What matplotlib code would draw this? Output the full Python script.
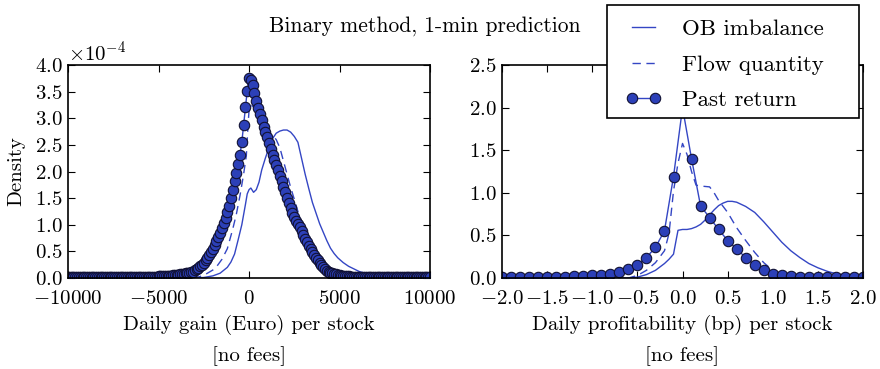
import numpy as np
import matplotlib
matplotlib.use("Agg")
from matplotlib import pyplot as plt
from matplotlib.lines import Line2D
from matplotlib.patches import Rectangle
from matplotlib.ticker import ScalarFormatter

plt.rcParams["font.family"] = ["cmr10", "DejaVu Serif"]
plt.rcParams["mathtext.fontset"] = "cm"
plt.rcParams["axes.formatter.use_mathtext"] = True
plt.rcParams["axes.unicode_minus"] = True
plt.rcParams["xtick.direction"] = "in"
plt.rcParams["ytick.direction"] = "in"
plt.rcParams["xtick.top"] = True
plt.rcParams["ytick.right"] = True
plt.rcParams["xtick.major.size"] = 5
plt.rcParams["ytick.major.size"] = 5
plt.rcParams["font.size"] = 15

# left panel: daily gain (Euro), density in units of 1e-4
gain_grid = np.linspace(-10000, 10000, 201)
gain_past = [
    0.01, 0.01, 0.01, 0.01, 0.01, 0.01, 0.01, 0.01, 0.01, 0.01,
    0.01, 0.01, 0.01, 0.01, 0.01, 0.01, 0.01, 0.01, 0.01, 0.01,
    0.01, 0.01, 0.01, 0.01, 0.01, 0.01, 0.01, 0.01, 0.01, 0.01,
    0.01, 0.01, 0.01, 0.01, 0.01, 0.01, 0.01, 0.01, 0.01, 0.01,
    0.015, 0.015, 0.015, 0.015, 0.02, 0.02, 0.02, 0.02, 0.02, 0.025,
    0.03, 0.03, 0.035, 0.035, 0.04, 0.04, 0.045, 0.045, 0.05, 0.055,
    0.06, 0.065, 0.07, 0.075, 0.08, 0.085, 0.09, 0.10, 0.11, 0.12,
    0.15, 0.17, 0.19, 0.22, 0.25, 0.29, 0.33, 0.38, 0.43, 0.49,
    0.55, 0.62, 0.69, 0.77, 0.85, 0.94, 1.03, 1.13, 1.24, 1.36,
    1.50, 1.65, 1.82, 1.98, 2.14, 2.32, 2.55, 2.88, 3.22, 3.52,
    3.76, 3.72, 3.62, 3.48, 3.32, 3.20, 3.08, 2.96, 2.84, 2.74,
    2.64, 2.53, 2.43, 2.32, 2.22, 2.12, 2.02, 1.92, 1.82, 1.71,
    1.61, 1.51, 1.41, 1.31, 1.23, 1.15, 1.08, 1.01, 0.95, 0.88,
    0.81, 0.74, 0.67, 0.61, 0.55, 0.49, 0.43, 0.38, 0.33, 0.28,
    0.24, 0.20, 0.17, 0.14, 0.12, 0.10, 0.09, 0.08, 0.07, 0.06,
    0.05, 0.045, 0.04, 0.035, 0.03, 0.03, 0.025, 0.025, 0.02, 0.02,
    0.02, 0.02, 0.015, 0.015, 0.015, 0.015, 0.015, 0.015, 0.015, 0.015,
    0.01, 0.01, 0.01, 0.01, 0.01, 0.01, 0.01, 0.01, 0.01, 0.01,
    0.01, 0.01, 0.01, 0.01, 0.01, 0.01, 0.01, 0.01, 0.01, 0.01,
    0.01, 0.01, 0.01, 0.01, 0.01, 0.01, 0.01, 0.01, 0.01, 0.01,
    0.01,
]

gain_ob_x = [-10000, -3000, -2500, -2000, -1600, -1200, -1000, -800, -600, -400,
             -200, -100, 0, 100, 250, 400, 550, 700, 900, 1100,
             1300, 1500, 1700, 1900, 2100, 2300, 2500, 2700, 2900, 3100,
             3300, 3500, 3700, 3900, 4100, 4300, 4500, 4700, 4900, 5200,
             5500, 5800, 6100, 6500, 7000, 7500, 8000, 10000]
gain_ob_y = [0.0, 0.0, 0.01, 0.04, 0.09, 0.2, 0.30, 0.45, 0.72, 1.0,
             1.38, 1.58, 1.66, 1.69, 1.61, 1.66, 1.80, 2.03, 2.25, 2.45,
             2.62, 2.72, 2.76, 2.78, 2.78, 2.74, 2.66, 2.55, 2.25, 1.95,
             1.68, 1.42, 1.22, 1.02, 0.86, 0.70, 0.56, 0.46, 0.38, 0.29,
             0.22, 0.17, 0.12, 0.08, 0.04, 0.02, 0.01, 0.0]

gain_flow_x = [-10000, -3000, -2500, -2000, -1800, -1500, -1200, -900, -700, -500,
               -300, -150, -100, -50, 0, 100, 300, 500, 700, 900,
               1100, 1300, 1500, 1700, 1900, 2100, 2300, 2500, 2700, 2900,
               3100, 3300, 3500, 3700, 3900, 4100, 4400, 4800, 5300, 6000,
               10000]
gain_flow_y = [0.0, 0.0, 0.05, 0.15, 0.21, 0.35, 0.55, 0.92, 1.2, 1.55,
               1.95, 2.3, 2.6, 2.9, 3.15, 3.25, 3.2, 3.05, 2.9, 2.78,
               2.72, 2.68, 2.6, 2.45, 2.2, 1.95, 1.7, 1.48, 1.25, 1.03,
               0.85, 0.68, 0.52, 0.38, 0.27, 0.19, 0.11, 0.05, 0.02, 0.0,
               0.0]

# right panel: daily profitability (bp)
prof_grid = np.linspace(-2.0, 2.0, 41)
prof_past = [
    0.01, 0.01, 0.01, 0.01, 0.01, 0.01, 0.01, 0.015, 0.02, 0.02,
    0.03, 0.04, 0.05, 0.07, 0.10, 0.15, 0.24, 0.36, 0.555, 1.19,
    2.0, 1.40, 0.845, 0.71, 0.57, 0.44, 0.34, 0.24, 0.15, 0.09,
    0.05, 0.03, 0.02, 0.015, 0.01, 0.01, 0.01, 0.01, 0.01, 0.01,
    0.01,
]

prof_ob_x = [-2.0, -0.6, -0.5, -0.4, -0.3, -0.2, -0.15, -0.1, -0.07, -0.05,
             0.0, 0.05, 0.1, 0.15, 0.2, 0.25, 0.3, 0.35, 0.4, 0.45,
             0.5, 0.55, 0.6, 0.7, 0.8, 0.9, 1.0, 1.1, 1.2, 1.3,
             1.4, 1.5, 1.6, 1.7, 1.8, 1.9, 2.0]
prof_ob_y = [0.0, 0.0, 0.01, 0.04, 0.09, 0.17, 0.22, 0.28, 0.45, 0.56,
             0.57, 0.57, 0.58, 0.60, 0.63, 0.68, 0.74, 0.80, 0.85, 0.88,
             0.90, 0.90, 0.89, 0.84, 0.77, 0.66, 0.54, 0.42, 0.32, 0.24,
             0.17, 0.12, 0.08, 0.05, 0.03, 0.02, 0.01]

prof_flow_x = [-2.0, -0.6, -0.5, -0.4, -0.3, -0.2, -0.15, -0.1, -0.05, 0.0,
               0.05, 0.1, 0.15, 0.2, 0.3, 0.35, 0.4, 0.5, 0.6, 0.7,
               0.8, 0.9, 1.0, 1.1, 1.2, 1.4, 2.0]
prof_flow_y = [0.0, 0.0, 0.03, 0.09, 0.18, 0.32, 0.52, 1.02, 1.35, 1.58,
               1.45, 1.25, 1.09, 1.08, 1.07, 1.0, 0.91, 0.77, 0.59, 0.44,
               0.30, 0.18, 0.09, 0.04, 0.02, 0.005, 0.0]

line_c = "#3446c4"
mark_c = "#2c40b8"
dash = (0, (6, 4))
mk = dict(marker="o", ms=7.5, mfc=mark_c, mec="#111133", mew=0.8)

fig = plt.figure(figsize=(8.8, 3.69), dpi=100)
ax1 = fig.add_axes([0.0773, 0.2466, 0.4114, 0.577])
ax2 = fig.add_axes([0.5705, 0.2466, 0.4102, 0.577])

ax1.plot(gain_ob_x, np.array(gain_ob_y) * 1e-4, color=line_c, lw=1.0)
ax1.plot(gain_flow_x, np.array(gain_flow_y) * 1e-4, color=line_c, lw=1.0, ls=dash)
ax1.plot(gain_grid, np.array(gain_past) * 1e-4, color=line_c, lw=1.0, **mk)
ax1.set_xlim(-10000, 10000)
ax1.set_ylim(0, 4e-4)
ax1.set_xticks([-10000, -5000, 0, 5000, 10000])
ax1.set_yticks(np.arange(0, 4.01e-4, 0.5e-4))
fmt = ScalarFormatter(useMathText=True)
fmt.set_powerlimits((0, 0))
ax1.yaxis.set_major_formatter(fmt)
ax1.set_ylabel("Density", labelpad=7)
ax1.set_xlabel("Daily gain (Euro) per stock\n[no fees]", linespacing=1.75, labelpad=5)

ax2.plot(prof_ob_x, prof_ob_y, color=line_c, lw=1.0)
ax2.plot(prof_flow_x, prof_flow_y, color=line_c, lw=1.0, ls=dash)
ax2.plot(prof_grid, prof_past, color=line_c, lw=1.0, **mk)
ax2.set_xlim(-2.0, 2.0)
ax2.set_ylim(0, 2.5)
ax2.set_xticks(np.arange(-2.0, 2.01, 0.5))
ax2.set_yticks(np.arange(0, 2.51, 0.5))
ax2.set_xlabel("Daily profitability (bp) per stock\n[no fees]", linespacing=1.75, labelpad=5)

for ax in (ax1, ax2):
    ax.tick_params(axis="x", pad=8.5)
    ax.tick_params(axis="y", pad=4)
    for s in ax.spines.values():
        s.set_linewidth(1.2)

fig.text(0.483, 0.93, "Binary method, 1-min prediction", ha="center", va="center",
         fontsize=15.5)

# legend frame drawn separately so its size matches the original box
W, H = 880.0, 369.0
fig.patches.append(Rectangle((607 / W, 1 - 118 / H), 252 / W, 113 / H,
                             transform=fig.transFigure, facecolor="white",
                             edgecolor="black", lw=1.2, zorder=4))

handles = [
    Line2D([], [], color=line_c, lw=1.0),
    Line2D([], [], color=line_c, lw=1.0, ls=dash),
    Line2D([], [], color=line_c, lw=1.0, **mk),
]
leg = fig.legend(handles, ["OB imbalance", "Flow quantity", "Past return"],
                 loc="upper left", bbox_to_anchor=(616 / W, 1 - 10 / H), fontsize=16.5,
                 frameon=False, handlelength=1.6, handletextpad=0.9,
                 borderpad=0.4, labelspacing=0.68, numpoints=2, borderaxespad=0)
leg.set_zorder(5)

fig.savefig("out.png", dpi=100)
